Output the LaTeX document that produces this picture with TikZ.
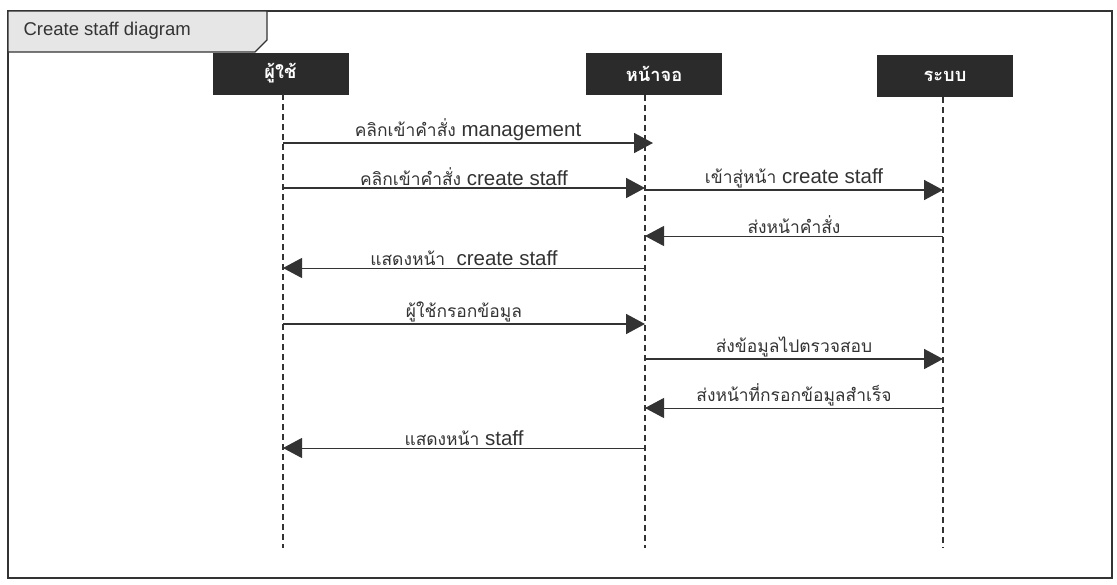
\documentclass[tikz,border=0pt]{standalone}
\usepackage{fontspec}
\setmainfont{Liberation Sans}
\newfontfamily\thaifont[Script=Thai,Scale=0.85]{Loma}
\usetikzlibrary{arrows.meta}
\definecolor{ink}{HTML}{333333}
\definecolor{boxfill}{HTML}{2B2B2B}
\definecolor{tabfill}{HTML}{E6E6E6}
\tikzset{
  actor/.style={fill=boxfill, draw=boxfill, minimum width=135pt, minimum height=41pt, text=white, font=\thaifont\bfseries\fontsize{21.5}{25}\selectfont, inner sep=0pt},
  lifeline/.style={draw=ink, line width=1.4pt, dash pattern=on 6pt off 4pt},
  msg/.style={draw=ink, line width=1.8pt, -{Triangle[length=19pt,width=20pt]}},
  ret/.style={draw=ink, line width=1pt, -{Triangle[length=19pt,width=20pt]}},
  lbl/.style={midway, above, inner sep=1.5pt, text=ink, font=\fontsize{20.5}{23}\selectfont},
}
\newcommand{\thtxt}[1]{{\thaifont #1}}
\begin{document}
\begin{tikzpicture}[x=1pt,y=-1pt]
\useasboundingbox (0,0) rectangle (1117,584);
% frame
\draw[ink, line width=1.6pt] (8,11) rectangle (1112,578);
\draw[ink, line width=1.2pt, fill=tabfill] (8,11) -- (267,11) -- (267,40) -- (255,52) -- (8,52) -- cycle;
\node[anchor=west, text=ink, font=\fontsize{18.5}{21}\selectfont] (title) at (20,31) {Create staff diagram};
% actors
\node[actor] (u) at (280.5,73.5) {\thtxt{ผู้ใช้}};
\node[actor] (s) at (654,74) {\thtxt{หน้าจอ}};
\node[actor] (b) at (945,76) {\thtxt{ระบบ}};
\coordinate (ue) at (283,548);
\coordinate (se) at (645,548);
\coordinate (be) at (943,548);
\draw[lifeline] (283,94) -- (ue);
\draw[lifeline] (645,95) -- (se);
\draw[lifeline] (943,97) -- (be);
% messages
\draw[msg] (ue |- 0,143) -- node[lbl] {\thtxt{คลิกเข้าคำสั่ง} management} ([xshift=8pt]se |- 0,143);
\draw[msg] (ue |- 0,188) -- node[lbl] {\thtxt{คลิกเข้าคำสั่ง} create staff} (se |- 0,188);
\draw[msg] (se |- 0,190) -- node[lbl] {\thtxt{เข้าสู่หน้า} create staff} (be |- 0,190);
\draw[ret] (be |- 0,236) -- node[lbl] {\thtxt{ส่งหน้าคำสั่ง}} (se |- 0,236);
\draw[ret] (se |- 0,268) -- node[lbl] {\thtxt{แสดงหน้า}\ \ create staff} (ue |- 0,268);
\draw[msg] (ue |- 0,324) -- node[lbl] {\thtxt{ผู้ใช้กรอกข้อมูล}} (se |- 0,324);
\draw[msg] (se |- 0,359) -- node[lbl] {\thtxt{ส่งข้อมูลไปตรวจสอบ}} (be |- 0,359);
\draw[ret] (be |- 0,408) -- node[lbl] {\thtxt{ส่งหน้าที่กรอกข้อมูลสำเร็จ}} (se |- 0,408);
\draw[ret] (se |- 0,448) -- node[lbl] {\thtxt{แสดงหน้า} staff} (ue |- 0,448);
\end{tikzpicture}
\end{document}
